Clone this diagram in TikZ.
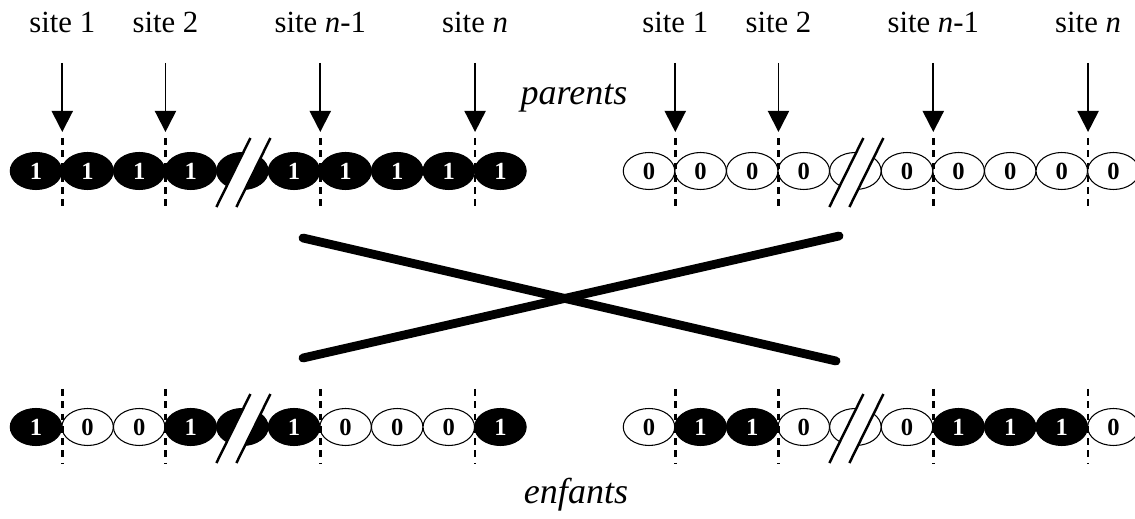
\documentclass[tikz,border=0pt]{standalone}
\usepackage{fontspec}
\setmainfont{Liberation Serif}
\usetikzlibrary{arrows.meta,shapes.geometric}

\tikzset{
	bit/.style={ellipse, draw=black, line width=0.6pt, inner sep=0pt,
		minimum width=1.03cm, minimum height=0.74cm,
		font=\fontsize{14}{16}\selectfont\bfseries},
	bit1/.style={bit, fill=black, text=white, node contents=1},
	bit0/.style={bit, fill=white, node contents=0},
	bitB/.style={bit, fill=black, node contents={}},
	bitW/.style={bit, fill=white, node contents={}},
	lab/.style={anchor=base, font=\fontsize{17.5}{20}\selectfont},
	big/.style={anchor=base, font=\fontsize{20.5}{24}\selectfont\itshape},
	pin/.style={line width=1.1pt, -{Triangle[width=12pt,length=12pt]}},
	cut/.style={line width=1.4pt, dash pattern=on 3.8pt off 3.2pt},
	brk/.style={line width=1.4pt},
	cross/.style={line width=5pt, line cap=round}
}

\begin{document}
\begin{tikzpicture}[x=0.02cm,y=-0.02cm]
	\useasboundingbox (0,0) rectangle (1135,519);

	% chromosomes
	\foreach \b [count=\i] in {1,1,1,1,B,1,1,1,1,1}
		\node (tl\i) at ({36+51.6*(\i-1)},171) [bit\b];
	\foreach \b [count=\i] in {0,0,0,0,W,0,0,0,0,0}
		\node (tr\i) at ({649+51.6*(\i-1)},171) [bit\b];
	\foreach \b [count=\i] in {1,0,0,1,B,1,0,0,0,1}
		\node (bl\i) at ({36+51.6*(\i-1)},427) [bit\b];
	\foreach \b [count=\i] in {0,1,1,0,W,0,1,1,1,0}
		\node (br\i) at ({649+51.6*(\i-1)},427) [bit\b];

	% sites
	\foreach \j/\t [count=\k] in {1/site 1,3/site 2,6/site \textit{n}-1,9/site \textit{n}} {
		\node[lab] (sl\k) at (tl\j.east |- 0,33) {\t};
		\node[lab] (sr\k) at (tr\j.east |- 0,33) {\t};
		\draw[pin] (sl\k.base |- 0,63) -- (tl\j.east |- 0,132);
		\draw[pin] (sr\k.base |- 0,63) -- (tr\j.east |- 0,132);
		\draw[cut] (tl\j.east |- 0,138) -- (tl\j.east |- 0,209);
		\draw[cut] (tr\j.east |- 0,138) -- (tr\j.east |- 0,209);
		\draw[cut] (bl\j.east |- 0,389) -- (bl\j.east |- 0,463);
		\draw[cut] (br\j.east |- 0,389) -- (br\j.east |- 0,463);
	}

	% breaks
	\foreach \n in {tl5,tr5,bl5,br5} {
		\fill[white] (\n) ++(-26,36) -- ++(34,-69) -- ++(20,0) -- ++(-34,69) -- cycle;
		\draw[brk] (\n) ++(-26,36) -- ++(34,-69);
		\draw[brk] (\n) ++(-6,36) -- ++(34,-69);
	}

	% crossover
	\draw[cross] (303,238) -- (836,361);
	\draw[cross] (303,358) -- (839,236);

	\node[big] (par) at (574,105) {parents};
	\node[big] (enf) at (576,503) {enfants};
\end{tikzpicture}
\end{document}
